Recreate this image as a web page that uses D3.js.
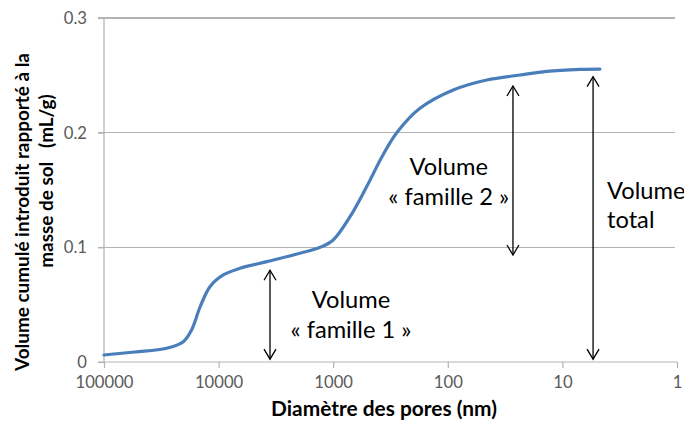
<!DOCTYPE html>
<html><head><meta charset="utf-8">
<script src="https://cdn.jsdelivr.net/npm/d3@7"></script>
<style>html,body{margin:0;padding:0;background:#fff}svg{display:block}</style>
</head><body>
<svg id="c" width="684" height="421"></svg>
<script>
// ---- data ----
const diameters = [100000, 53700, 28400, 20300, 17200, 14500, 11900, 9100, 6500, 3800, 1950, 1300, 1000, 713, 510, 366, 277, 175, 89.7, 45.7, 23.4, 13.7, 7.0, 4.7];
const volumes   = [0.0061, 0.0087, 0.012, 0.0177, 0.028, 0.048, 0.0657, 0.0759, 0.0817, 0.0875, 0.0948, 0.1, 0.1064, 0.1267, 0.153, 0.181, 0.2003, 0.2212, 0.2372, 0.2459, 0.2503, 0.2535, 0.2552, 0.2555];
const xTicks = [100000, 10000, 1000, 100, 10, 1];
const xTickLabels = ["100000", "10000", "1000", "100", "10", "1"];
const yTicks = [0, 0.1, 0.2, 0.3];
const yTickLabels = ["0", "0.1", "0.2", "0.3"];
const arrowDiam = [3560, 27, 5.4];
const arrowTop = [0.080, 0.2407, 0.2488];
const arrowBottom = [0.0025, 0.0933, 0.0025];
const annoLines = [["Volume", "« famille 1 »"], ["Volume", "« famille 2 »"], ["Volume", "total"]];
const xTitle = "Diamètre des pores (nm)";
const yTitleLines = ["Volume cumulé introduit rapporté à la", "masse de sol   (mL/g)"];

// ---- layout ----
const L = 104, R = 677, T = 18, B = 362;
const svg = d3.select("#c");
const x = d3.scaleLog().domain([100000, 1]).range([L, R]);
const y = d3.scaleLinear().domain([0, 0.3]).range([B, T]);
const font = "Lato, 'Open Sans', sans-serif";

function fitSize(text, weight, target) {
  const t = svg.append("text").style("font", `${weight} 20px ${font}`).style("white-space", "pre").text(text);
  const w = t.node().getComputedTextLength();
  t.remove();
  return 20 * target / w;
}
const tickSize = fitSize("100000", "normal", 58);
const annoSize = fitSize("« famille 2 »", "normal", 121);
const xTitleSize = fitSize(xTitle, "bold", 226);
const yTitleSize = fitSize(yTitleLines[0], "bold", 318);

// gridlines
svg.append("g").selectAll("line").data(yTicks.filter(d => d > 0)).join("line")
  .attr("x1", L - 6).attr("x2", R - 2).attr("y1", d => y(d)).attr("y2", d => y(d))
  .attr("stroke", "#b3b3b3").attr("stroke-width", 1.2).attr("shape-rendering", "crispEdges");

// y axis
const yAx = svg.append("g").attr("transform", `translate(${L},0)`)
  .call(d3.axisLeft(y).tickValues(yTicks).tickFormat((d, i) => yTickLabels[i]).tickSize(6).tickPadding(11));
yAx.select(".domain").attr("stroke", "#b3b3b3").attr("stroke-width", 1.2).attr("d", `M-6,${B}H0V${T}`);
yAx.selectAll(".tick line").attr("stroke", "#b3b3b3").attr("stroke-width", 1.2);
yAx.selectAll(".tick text").attr("fill", "#595959").style("font", `${tickSize}px ${font}`);

// x axis
const xAx = svg.append("g").attr("transform", `translate(0,${B})`)
  .call(d3.axisBottom(x).tickValues(xTicks).tickFormat((d, i) => xTickLabels[i]).tickSize(6).tickPadding(8));
xAx.select(".domain").attr("stroke", "#b3b3b3").attr("stroke-width", 1.2).attr("d", `M${L},0H${R}`);
xAx.selectAll(".tick line").attr("stroke", "#b3b3b3").attr("stroke-width", 1.2);
xAx.selectAll(".tick text").attr("fill", "#595959").style("font", `${tickSize}px ${font}`);

// curve
const pts = diameters.map((d, i) => [x(d), y(volumes[i])]);
svg.append("path").attr("d", d3.line().curve(d3.curveCatmullRom.alpha(0.5))(pts))
  .attr("fill", "none").attr("stroke", "#4a7ebb").attr("stroke-width", 3.2).attr("stroke-linecap", "round");

// arrows
const ag = svg.append("g").attr("stroke", "#000").attr("stroke-width", 1.3).attr("fill", "none");
arrowDiam.forEach((d, i) => {
  const ax = x(d), y1 = y(arrowTop[i]), y2 = y(arrowBottom[i]);
  ag.append("line").attr("x1", ax).attr("x2", ax).attr("y1", y1).attr("y2", y2);
  ag.append("path").attr("d", `M${ax - 6},${y1 + 10}L${ax},${y1}L${ax + 6},${y1 + 10}`);
  ag.append("path").attr("d", `M${ax - 6},${y2 - 10}L${ax},${y2}L${ax + 6},${y2 - 10}`);
});

// annotations
const annoPos = [
  {d: 700, v: [0.054, 0.028], anchor: "middle"},
  {d: 98, v: [0.170, 0.144], anchor: "middle"},
  {d: 4.08, v: [0.149, 0.124], anchor: "start"}
];
annoLines.forEach((lines, i) => {
  lines.forEach((t, j) => {
    svg.append("text").attr("x", x(annoPos[i].d)).attr("y", y(annoPos[i].v[j]))
      .attr("dy", "0.35em").attr("text-anchor", annoPos[i].anchor)
      .attr("fill", "#000").style("font", `${annoSize}px ${font}`).text(t);
  });
});

// axis titles
svg.append("text").attr("x", 384).attr("y", 409).attr("dy", "0.35em").attr("text-anchor", "middle")
  .style("font", `bold ${xTitleSize}px ${font}`).attr("fill", "#000").text(xTitle);
[[22, 212], [46, 181]].forEach((p, i) => {
  svg.append("text").attr("transform", `translate(${p[0]},${p[1]}) rotate(-90)`)
    .attr("dy", "0.35em").attr("text-anchor", "middle")
    .style("font", `bold ${yTitleSize}px ${font}`).attr("fill", "#000").style("white-space", "pre").text(yTitleLines[i]);
});
</script>
</body></html>
